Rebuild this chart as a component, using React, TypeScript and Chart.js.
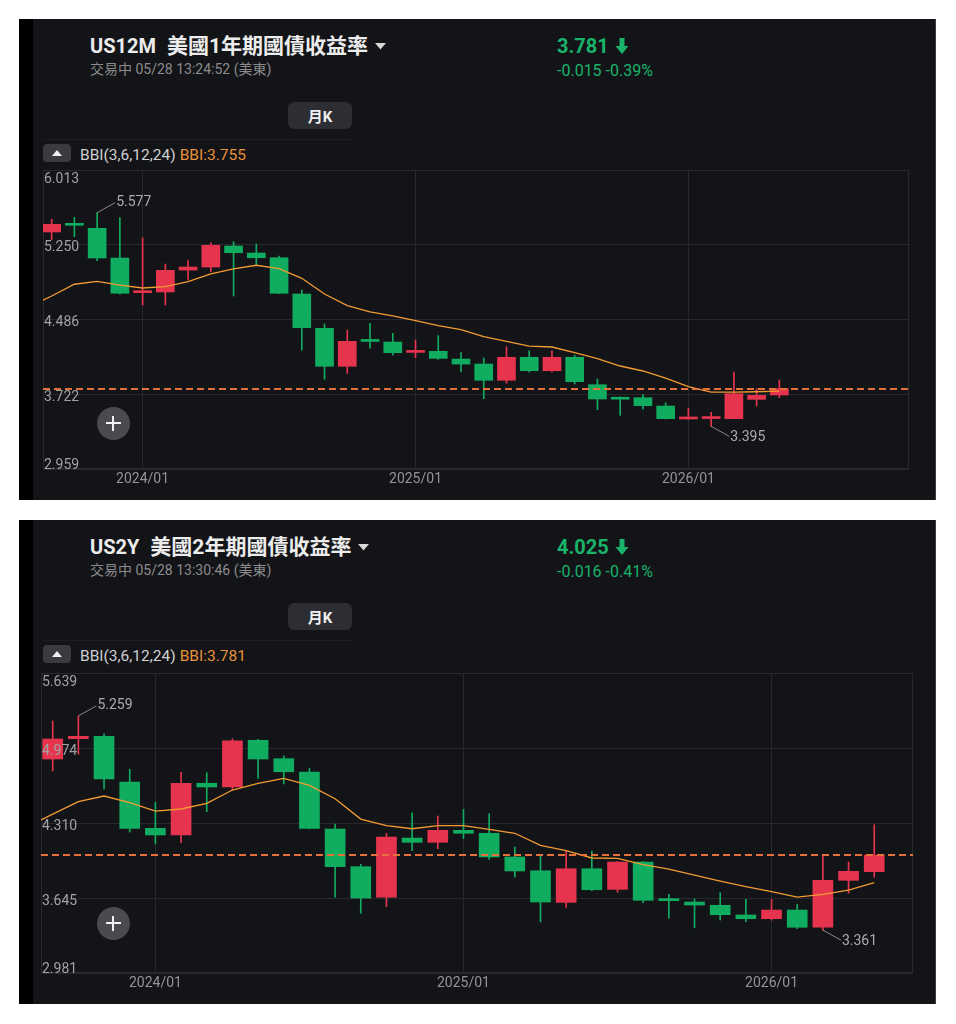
import React, { useEffect, useRef } from 'react';
import { Chart, registerables } from 'chart.js';
Chart.register(...registerables);

// ---------- data ----------
const months = [
  '2023/09', '2023/10', '2023/11', '2023/12', '2024/01', '2024/02', '2024/03', '2024/04', '2024/05', '2024/06', '2024/07',
  '2024/08', '2024/09', '2024/10', '2024/11', '2024/12', '2025/01', '2025/02', '2025/03', '2025/04', '2025/05', '2025/06',
  '2025/07', '2025/08', '2025/09', '2025/10', '2025/11', '2025/12', '2026/01', '2026/02', '2026/03', '2026/04', '2026/05',
];
const xTickIdx = [4, 16, 28];
const xTickLabels = ['2024/01', '2025/01', '2026/01'];

// US12M
const us12mOpen = [5.380, 5.455, 5.417, 5.114, 4.760, 4.767, 4.991, 5.022, 5.237, 5.165, 5.117, 4.746, 4.396, 4.008, 4.270, 4.256, 4.150, 4.161, 4.082, 4.031, 3.865, 4.100, 3.963, 4.100, 3.820, 3.678, 3.687, 3.602, 3.470, 3.474, 3.473, 3.670, 3.715];
const us12mHigh = [5.509, 5.530, 5.577, 5.526, 5.320, 5.053, 5.087, 5.270, 5.281, 5.257, 5.135, 4.787, 4.440, 4.379, 4.447, 4.345, 4.277, 4.321, 4.147, 4.093, 4.208, 4.167, 4.167, 4.123, 3.878, 3.695, 3.722, 3.636, 3.579, 3.538, 3.950, 3.779, 3.868];
const us12mLow = [5.298, 5.332, 5.087, 4.745, 4.634, 4.634, 4.890, 4.974, 4.726, 5.043, 4.750, 4.174, 3.875, 3.936, 4.192, 4.123, 4.096, 4.079, 3.950, 3.677, 3.834, 3.950, 3.950, 3.827, 3.565, 3.507, 3.569, 3.470, 3.468, 3.395, 3.470, 3.602, 3.687];
const us12mClose = [5.458, 5.448, 5.114, 4.754, 4.768, 4.988, 5.022, 5.244, 5.168, 5.117, 4.754, 4.402, 4.008, 4.263, 4.262, 4.147, 4.158, 4.089, 4.031, 3.865, 4.100, 3.963, 4.100, 3.851, 3.674, 3.672, 3.606, 3.473, 3.476, 3.480, 3.728, 3.711, 3.781];
// BBI starts one month earlier (2023/08)
const us12mBBI = [4.614, 4.726, 4.846, 4.876, 4.838, 4.808, 4.821, 4.872, 4.951, 5.002, 5.040, 5.005, 4.907, 4.746, 4.627, 4.563, 4.522, 4.474, 4.423, 4.382, 4.310, 4.263, 4.215, 4.205, 4.147, 4.086, 4.011, 3.960, 3.888, 3.800, 3.745, 3.745, 3.748, 3.755];
const us12mYTicks = [2.959, 3.722, 4.486, 5.250, 6.013];
const us12mYLabels = ['2.959', '3.722', '4.486', '5.250', '6.013'];

// US2Y
const us2yOpen = [4.877, 5.057, 5.078, 4.673, 4.263, 4.204, 4.662, 4.629, 5.043, 4.880, 4.762, 4.257, 3.923, 3.652, 4.177, 4.139, 4.245, 4.219, 4.009, 3.887, 3.607, 3.905, 3.722, 3.964, 3.628, 3.610, 3.581, 3.495, 3.462, 3.539, 3.386, 3.802, 3.879];
const us2yHigh = [5.214, 5.259, 5.101, 4.786, 4.493, 4.759, 4.756, 5.057, 5.052, 4.904, 4.795, 4.301, 3.944, 4.219, 4.399, 4.372, 4.431, 4.392, 4.097, 4.033, 4.062, 4.062, 3.968, 3.968, 3.678, 3.637, 3.692, 3.634, 3.634, 3.590, 4.029, 3.964, 4.295];
const us2yLow = [4.771, 4.919, 4.611, 4.230, 4.124, 4.136, 4.410, 4.602, 4.706, 4.656, 4.258, 3.652, 3.510, 3.568, 4.065, 4.083, 4.171, 3.988, 3.832, 3.433, 3.563, 3.710, 3.696, 3.604, 3.466, 3.382, 3.450, 3.436, 3.450, 3.374, 3.361, 3.687, 3.829];
const us2yClose = [5.054, 5.078, 4.700, 4.263, 4.204, 4.662, 4.629, 5.037, 4.877, 4.764, 4.263, 3.923, 3.645, 4.186, 4.139, 4.245, 4.219, 4.009, 3.885, 3.610, 3.905, 3.719, 3.964, 3.625, 3.622, 3.583, 3.498, 3.462, 3.539, 3.386, 3.802, 3.882, 4.025];
const us2yBBI = [4.277, 4.388, 4.499, 4.549, 4.490, 4.416, 4.434, 4.484, 4.602, 4.662, 4.706, 4.644, 4.525, 4.345, 4.286, 4.259, 4.286, 4.286, 4.254, 4.219, 4.112, 4.065, 4.000, 3.997, 3.941, 3.902, 3.849, 3.796, 3.746, 3.701, 3.654, 3.678, 3.716, 3.781];
const us2yYTicks = [2.981, 3.645, 4.310, 4.974, 5.639];
const us2yYLabels = ['2.981', '3.645', '4.310', '4.974', '5.639'];

// ---------- styles ----------
const FONT = "Roboto, 'Noto Sans CJK TC', 'Noto Sans', sans-serif";
const RED = '#E7344E';
const GREEN = '#10AC60';
const TEXT_GREEN = '#19B36B';
const GRID = '#27292d';
const BBI_COLOR = '#F29B33';
const BBI_TEXT = '#E8913B';
const DASH = '#E6703C';
const PANEL_BG = '#131417';

type CandleProps = {
  open: number[]; high: number[]; low: number[]; close: number[]; bbi: number[];
  yTicks: number[]; yLabels: string[]; xMin: number; xMax: number;
  width: number; height: number; padding: { left: number; right: number; top: number; bottom: number };
  xAxisHeight: number; bodyWidth: number;
};

function CandleChart(p: CandleProps) {
  const ref = useRef<HTMLCanvasElement>(null);
  useEffect(() => {
    const idx = months.map((_, i) => i);
    const bodies = idx.map((i) => ({ x: i, y: [p.open[i], p.close[i]] }));
    const wicks = idx.map((i) => ({ x: i, y: [p.low[i], p.high[i]] }));
    const bbiPts = p.bbi.map((v, i) => ({ x: i - 1, y: v }));
    const colorOf = (i: number) => (p.close[i] >= p.open[i] ? RED : GREEN);
    const lastPrice = p.close[p.close.length - 1];

    const overlay = {
      id: 'overlay',
      beforeDatasetsDraw(chart: any) {
        const { ctx, chartArea: a } = chart;
        ctx.save();
        ctx.strokeStyle = GRID;
        ctx.lineWidth = 1;
        ctx.strokeRect(Math.round(a.left) + 0.5, Math.round(a.top) + 0.5, Math.round(a.right - a.left) - 1, Math.round(a.bottom - a.top) - 1);
        ctx.restore();
      },
      afterDatasetsDraw(chart: any) {
        const { ctx, chartArea: a, scales } = chart;
        const xs = scales.x, ys = scales.y;
        ctx.save();
        // last price dashed line
        const yp = Math.round(ys.getPixelForValue(lastPrice));
        ctx.strokeStyle = DASH;
        ctx.lineWidth = 2;
        ctx.setLineDash([7, 4]);
        ctx.beginPath();
        ctx.moveTo(a.left, yp);
        ctx.lineTo(a.right, yp);
        ctx.stroke();
        ctx.setLineDash([]);
        // y labels
        ctx.fillStyle = '#a2a2a4';
        ctx.font = `14px ${FONT}`;
        ctx.textAlign = 'left';
        ctx.textBaseline = 'middle';
        p.yTicks.forEach((v, i) => {
          const y = ys.getPixelForValue(v);
          const off = i === p.yTicks.length - 1 ? 9 : i === 0 ? -4 : 3;
          ctx.fillText(p.yLabels[i], a.left + 1, y + off);
        });
        // max / min annotations
        let hi = 0, lo = 0;
        p.high.forEach((v, i) => { if (v > p.high[hi]) hi = i; });
        p.low.forEach((v, i) => { if (v < p.low[lo]) lo = i; });
        ctx.strokeStyle = '#8a8a8c';
        ctx.lineWidth = 1;
        ctx.fillStyle = '#acacae';
        const hx = xs.getPixelForValue(hi), hy = ys.getPixelForValue(p.high[hi]);
        ctx.beginPath(); ctx.moveTo(hx, hy); ctx.lineTo(hx + 18, hy - 10); ctx.stroke();
        ctx.fillText(p.high[hi].toFixed(3), hx + 19, hy - 10);
        const lx = xs.getPixelForValue(lo), ly = ys.getPixelForValue(p.low[lo]);
        ctx.beginPath(); ctx.moveTo(lx, ly); ctx.lineTo(lx + 18, ly + 10); ctx.stroke();
        ctx.fillText(p.low[lo].toFixed(3), lx + 19, ly + 11);
        ctx.restore();
      },
    };

    const chart = new Chart(ref.current as HTMLCanvasElement, {
      type: 'bar',
      data: {
        datasets: [
          {
            type: 'line', data: bbiPts as any, borderColor: BBI_COLOR, borderWidth: 1.3,
            pointRadius: 0, tension: 0, order: 0, fill: false,
          } as any,
          {
            type: 'bar', data: bodies as any, backgroundColor: (c: any) => colorOf(c.dataIndex),
            barThickness: p.bodyWidth, grouped: false, minBarLength: 2, order: 1, borderWidth: 0,
          } as any,
          {
            type: 'bar', data: wicks as any, backgroundColor: (c: any) => colorOf(c.dataIndex),
            barThickness: 1, grouped: false, order: 2, borderWidth: 0,
          } as any,
        ],
      },
      options: {
        responsive: false,
        animation: false,
        devicePixelRatio: 1,
        layout: { padding: p.padding },
        plugins: { legend: { display: false }, tooltip: { enabled: false } },
        scales: {
          x: {
            type: 'linear', min: p.xMin, max: p.xMax, offset: false, bounds: 'ticks',
            afterDataLimits: (s: any) => { s.min = p.xMin; s.max = p.xMax; },
            afterBuildTicks: (s: any) => { s.ticks = xTickIdx.map((v) => ({ value: v })); },
            afterFit: (s: any) => { s.height = p.xAxisHeight; },
            ticks: {
              autoSkip: false, maxRotation: 0, minRotation: 0, padding: 2, color: '#949496',
              font: { family: FONT, size: 14 },
              callback: (_v: any, i: number) => xTickLabels[i],
            },
            grid: { color: GRID, drawTicks: false, offset: false },
            border: { display: false },
          },
          y: {
            type: 'linear', min: p.yTicks[0], max: p.yTicks[p.yTicks.length - 1],
            afterBuildTicks: (s: any) => { s.ticks = p.yTicks.map((v) => ({ value: v })); },
            afterFit: (s: any) => { s.width = 0; },
            ticks: { display: false },
            grid: { color: GRID, drawTicks: false },
            border: { display: false },
          },
        } as any,
      },
      plugins: [overlay],
    });
    return () => chart.destroy();
  }, []);
  return (
    <canvas ref={ref} width={p.width} height={p.height}
      style={{ position: 'absolute', left: 14, top: 141, width: p.width, height: p.height }} />
  );
}

function DownArrow() {
  return (
    <svg width="14" height="16" viewBox="0 0 14 16" style={{ marginLeft: 6 }}>
      <path d="M4.5 0 H9.5 V8 H13.5 L7 16 L0.5 8 H4.5 Z" fill={TEXT_GREEN} />
    </svg>
  );
}

type PanelProps = {
  top: number; height: number; symbol: string; name: string; time: string;
  price: string; change: string; bbiValue: string; canvasTop: number; chart: CandleProps;
};

function Panel(p: PanelProps) {
  return (
    <div style={{ position: 'absolute', left: 19, top: p.top, width: 917, height: p.height, background: PANEL_BG, fontFamily: FONT, overflow: 'hidden', borderRight: '1px solid #3a3b3e', boxSizing: 'border-box' }}>
      <div style={{ position: 'absolute', left: 0, top: 0, width: 14, height: '100%', background: '#000' }} />
      <div style={{ position: 'absolute', left: 71, top: 15, height: 24, lineHeight: '24px', fontSize: 20, fontWeight: 700, color: '#ececec', whiteSpace: 'nowrap', display: 'flex', alignItems: 'center' }}>
        <span>{p.symbol}</span>
        <span style={{ marginLeft: 11, fontSize: 21 }}>{p.name}</span>
        <svg width="11" height="7" viewBox="0 0 11 7" style={{ marginLeft: 7 }}><path d="M0 0 H11 L5.5 6.5 Z" fill="#d8d8d8" /></svg>
      </div>
      <div style={{ position: 'absolute', left: 71, top: 41, lineHeight: '18px', fontSize: 14, color: '#8b8b8d', whiteSpace: 'nowrap' }}>{p.time}</div>
      <div style={{ position: 'absolute', left: 538, top: 15, height: 24, lineHeight: '24px', fontSize: 20, fontWeight: 700, color: TEXT_GREEN, display: 'flex', alignItems: 'center' }}>
        <span>{p.price}</span><DownArrow />
      </div>
      <div style={{ position: 'absolute', left: 538, top: 43, lineHeight: '18px', fontSize: 16, color: TEXT_GREEN, whiteSpace: 'nowrap' }}>{p.change}</div>
      <div style={{ position: 'absolute', left: 269, top: 83, width: 64, height: 27, borderRadius: 6, background: '#2c2e33', color: '#f0f0f0', fontSize: 15, fontWeight: 700, display: 'flex', alignItems: 'center', justifyContent: 'center' }}>月K</div>
      <div style={{ position: 'absolute', left: 24, top: 120, width: 312, height: 1, background: '#1d1e21' }} />
      <div style={{ position: 'absolute', left: 24, top: 125, width: 28, height: 18, borderRadius: 4, background: '#3a3b3f', display: 'flex', alignItems: 'center', justifyContent: 'center' }}>
        <svg width="10" height="6" viewBox="0 0 10 6"><path d="M0 6 L5 0 L10 6 Z" fill="#f0f0f0" /></svg>
      </div>
      <div style={{ position: 'absolute', left: 61, top: 126, lineHeight: '20px', fontSize: 15.5, whiteSpace: 'nowrap' }}>
        <span style={{ color: '#cfcfd1' }}>BBI(3,6,12,24)</span>
        <span style={{ color: BBI_TEXT, marginLeft: 4 }}>BBI:{p.bbiValue}</span>
      </div>
      <div style={{ position: 'absolute', left: 0, top: p.canvasTop - 141, width: 917, height: p.height }}>
        <CandleChart {...p.chart} />
      </div>
      <div style={{ position: 'absolute', left: 94 - 16.5, top: p.canvasTop + 263 - 16.5, width: 33, height: 33, borderRadius: '50%', background: '#4a4b4e', zIndex: 2 }}>
        <div style={{ position: 'absolute', left: 9, top: 15.5, width: 15, height: 2, background: '#f2f2f2' }} />
        <div style={{ position: 'absolute', left: 15.5, top: 9, width: 2, height: 15, background: '#f2f2f2' }} />
      </div>
    </div>
  );
}

export default function App() {
  return (
    <div style={{ position: 'absolute', left: 0, top: 0, width: 956, height: 1024, background: '#ffffff', overflow: 'hidden' }}>
      <Panel
        top={19} height={481} symbol="US12M" name="美國1年期國債收益率" time="交易中 05/28 13:24:52 (美東)"
        price="3.781" change="-0.015 -0.39%" bbiValue="3.755" canvasTop={141}
        chart={{
          open: us12mOpen, high: us12mHigh, low: us12mLow, close: us12mClose, bbi: us12mBBI,
          yTicks: us12mYTicks, yLabels: us12mYLabels, xMin: -0.38, xMax: 37.7,
          width: 903, height: 340, padding: { left: 10, right: 27, top: 10, bottom: 0 },
          xAxisHeight: 31, bodyWidth: 18,
        }}
      />
      <Panel
        top={520} height={484} symbol="US2Y" name="美國2年期國債收益率" time="交易中 05/28 13:30:46 (美東)"
        price="4.025" change="-0.016 -0.41%" bbiValue="3.781" canvasTop={140}
        chart={{
          open: us2yOpen, high: us2yHigh, low: us2yLow, close: us2yClose, bbi: us2yBBI,
          yTicks: us2yYTicks, yLabels: us2yYLabels, xMin: -0.456, xMax: 33.51,
          width: 903, height: 343, padding: { left: 8, right: 23, top: 13, bottom: 0 },
          xAxisHeight: 30, bodyWidth: 20,
        }}
      />
    </div>
  );
}
